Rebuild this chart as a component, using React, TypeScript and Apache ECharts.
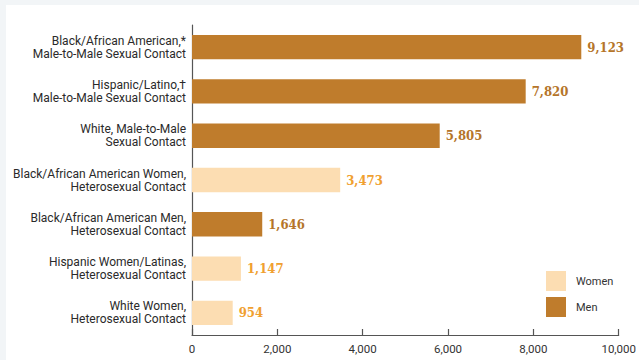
import React, { useEffect, useRef } from "react";
import * as echarts from "echarts";

const categories = [
  "Black/African American,*\nMale-to-Male Sexual Contact",
  "Hispanic/Latino,†\nMale-to-Male Sexual Contact",
  "White, Male-to-Male\nSexual Contact",
  "Black/African American Women,\nHeterosexual Contact",
  "Black/African American Men,\nHeterosexual Contact",
  "Hispanic Women/Latinas,\nHeterosexual Contact",
  "White Women,\nHeterosexual Contact",
];
const values = [9123, 7820, 5805, 3473, 1646, 1147, 954];
const genders = ["Men", "Men", "Men", "Women", "Men", "Women", "Women"];
const xTicks = [0, 2000, 4000, 6000, 8000, 10000];

const womenData = values.map((v, i) => (genders[i] === "Women" ? v : "-"));
const menData = values.map((v, i) => (genders[i] === "Men" ? v : "-"));

const fmt = (v: number) => v.toLocaleString("en-US");

export default function App() {
  const ref = useRef<HTMLDivElement>(null);
  useEffect(() => {
    if (!ref.current) return;
    const chart = echarts.init(ref.current, undefined, { renderer: "svg" });
    const labelFont = {
      fontFamily: "'DejaVu Serif Condensed', 'DejaVu Serif', serif",
      fontWeight: "bold" as const,
      fontSize: 13,
    };
    chart.setOption({
      animation: false,
      backgroundColor: "#ffffff",
      grid: { left: 186, right: 13, top: 20, bottom: 25, containLabel: false },
      legend: {
        orient: "vertical",
        left: 540,
        top: 266,
        padding: 0,
        itemWidth: 20,
        itemHeight: 20,
        itemGap: 6,
        icon: "rect",
        data: ["Women", "Men"],
        textStyle: { fontFamily: "Roboto, sans-serif", fontSize: 11, color: "#333", padding: [0, 0, 0, 5] },
        selectedMode: false,
      },
      xAxis: {
        type: "value",
        min: xTicks[0],
        max: xTicks[xTicks.length - 1],
        interval: 2000,
        axisLine: { show: true, lineStyle: { color: "#555", width: 1.2 } },
        axisTick: { show: true, inside: true, length: 6, lineStyle: { color: "#555", width: 1.2 } },
        splitLine: { show: false },
        axisLabel: {
          formatter: (v: number) => fmt(v),
          fontFamily: "Roboto, sans-serif",
          fontSize: 11.5,
          color: "#333",
          margin: 8,
        },
      },
      yAxis: {
        type: "category",
        data: categories,
        inverse: true,
        axisLine: { show: true, lineStyle: { color: "#555", width: 1.2 } },
        axisTick: { show: false },
        axisLabel: {
          fontFamily: "Roboto, sans-serif",
          fontSize: 12,
          color: "#2a2a2a",
          lineHeight: 13,
          align: "right",
          margin: 6,
        },
      },
      series: [
        {
          name: "Women",
          type: "bar",
          stack: "all",
          data: womenData,
          barWidth: "55%",
          itemStyle: { color: "#FCDDB2" },
          label: {
            show: true,
            position: "right",
            distance: 6,
            color: "#F0A030",
            formatter: (p: any) => fmt(p.value),
            ...labelFont,
          },
        },
        {
          name: "Men",
          type: "bar",
          stack: "all",
          data: menData,
          barWidth: "55%",
          itemStyle: { color: "#BF7C2C" },
          label: {
            show: true,
            position: "right",
            distance: 6,
            color: "#B5752A",
            formatter: (p: any) => fmt(p.value),
            ...labelFont,
          },
        },
      ],
    });
    return () => chart.dispose();
  }, []);
  return (
    <div style={{ position: "fixed", left: 0, top: 0, width: 639, height: 360, background: "#f2f5f7" }}>
      <div ref={ref} style={{ position: "absolute", left: 6, top: 5, width: 633, height: 355 }} />
    </div>
  );
}
